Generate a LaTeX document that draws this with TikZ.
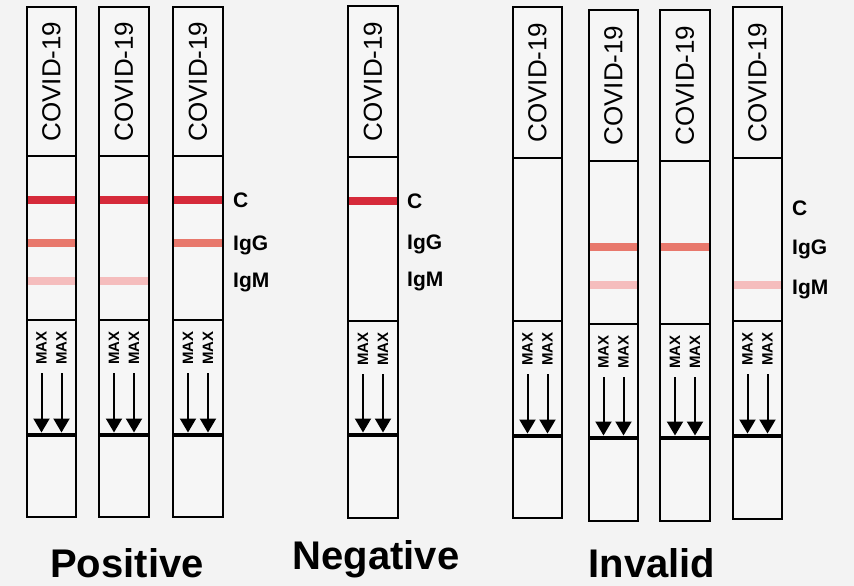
\documentclass[tikz,border=0pt]{standalone}
\usepackage{fontspec}
\setmainfont{Liberation Sans}
\usetikzlibrary{arrows.meta}
\definecolor{bgcol}{HTML}{F3F3F3}
\definecolor{stripfill}{HTML}{F6F6F6}
\definecolor{cline}{HTML}{D62A3A}
\definecolor{gline}{HTML}{E8786C}
\definecolor{mline}{HTML}{F5BDBD}
\tikzset{
  stripline/.style={line width=2.5pt, draw=black},
  thickline/.style={line width=4pt, draw=black},
  covtext/.style={rotate=90, font=\fontsize{26}{26}\selectfont, inner sep=0pt},
  maxtext/.style={rotate=90, font=\bfseries\fontsize{15}{15}\selectfont, inner sep=0pt},
  flowarrow/.style={line width=2pt, -{Triangle[width=16pt,length=14pt]}},
  lbl/.style={anchor=base west, font=\bfseries\fontsize{21}{21}\selectfont, inner sep=0pt},
  result/.style={anchor=base, font=\bfseries\fontsize{40}{40}\selectfont, inner sep=0pt},
}
% #1 name, #2 xl, #3 xr, #4 top, #5 covbot, #6 maxtop, #7 thick, #8 bottom
\newcommand\teststrip[8]{%
  \fill[stripfill] (#2,#4) rectangle (#3,#8);
  \draw[stripline] (#2,#5) -- (#3,#5);
  \draw[stripline] (#2,#6) -- (#3,#6);
  \draw[thickline] (#2,#7) -- (#3,#7);
  \draw[stripline] (#2,#4) rectangle (#3,#8);
  \node[covtext] (#1-cov) at ({(#2+#3)/2},{(#4+#5)/2}) {COVID-19};
  \node[maxtext] (#1-maxa) at ({(#2+#3)/2-10},{#6+28}) {MAX};
  \node[maxtext] (#1-maxb) at ({(#2+#3)/2+10},{#6+28}) {MAX};
  \coordinate (#1-a1) at ({(#2+#3)/2-10},{#6+53});
  \coordinate (#1-a2) at ({(#2+#3)/2-10},{#7-2.5});
  \coordinate (#1-b1) at ({(#2+#3)/2+10},{#6+53});
  \coordinate (#1-b2) at ({(#2+#3)/2+10},{#7-2.5});
  \draw[flowarrow] (#1-a1) -- (#1-a2);
  \draw[flowarrow] (#1-b1) -- (#1-b2);
}
% #1 xl, #2 xr, #3 y, #4 colour
\newcommand\tband[4]{\fill[#4] ({#1+1.25},{#3-3.6}) rectangle ({#2-1.25},{#3+3.6});}
\begin{document}
\begin{tikzpicture}[x=1pt,y=-1pt]
\fill[bgcol] (0,0) rectangle (854,586);
\useasboundingbox (0,0) rectangle (854,586);
% Positive
\teststrip{p1}{27}{76}{7}{156}{320}{435}{517}
\teststrip{p2}{99}{149}{7}{156}{320}{435}{517}
\teststrip{p3}{173}{223}{7}{156}{320}{435}{517}
\tband{27}{76}{200}{cline}\tband{27}{76}{243}{gline}\tband{27}{76}{281}{mline}
\tband{99}{149}{200}{cline}\tband{99}{149}{281}{mline}
\tband{173}{223}{200}{cline}\tband{173}{223}{243}{gline}
\node[lbl] (pc) at (233,207.5) {C};
\node[lbl] (pg) at (233,250.5) {IgG};
\node[lbl] (pm) at (233,287.5) {IgM};
% Negative
\teststrip{n1}{348}{398}{6}{157}{321}{435}{518}
\tband{348}{398}{201}{cline}
\node[lbl] (nc) at (407,208.5) {C};
\node[lbl] (ng) at (407,249.5) {IgG};
\node[lbl] (nm) at (407,286) {IgM};
% Invalid
\teststrip{i1}{513}{562}{7}{158}{321}{436}{518}
\teststrip{i2}{589}{638}{10}{161}{324}{438}{521}
\teststrip{i3}{660}{710}{10}{161}{324}{438}{521}
\teststrip{i4}{733}{782}{7}{158}{321}{436}{519}
\tband{589}{638}{247}{gline}\tband{589}{638}{285}{mline}
\tband{660}{710}{247}{gline}
\tband{733}{782}{285}{mline}
\node[lbl] (ic) at (792,215) {C};
\node[lbl] (ig) at (792,254) {IgG};
\node[lbl] (im) at (792,294) {IgM};
% Results
\node[result] (pos) at (127,577) {Positive};
\node[result] (neg) at (376,569) {Negative};
\node[result] (inv) at (652,577) {Invalid};
\end{tikzpicture}
\end{document}
